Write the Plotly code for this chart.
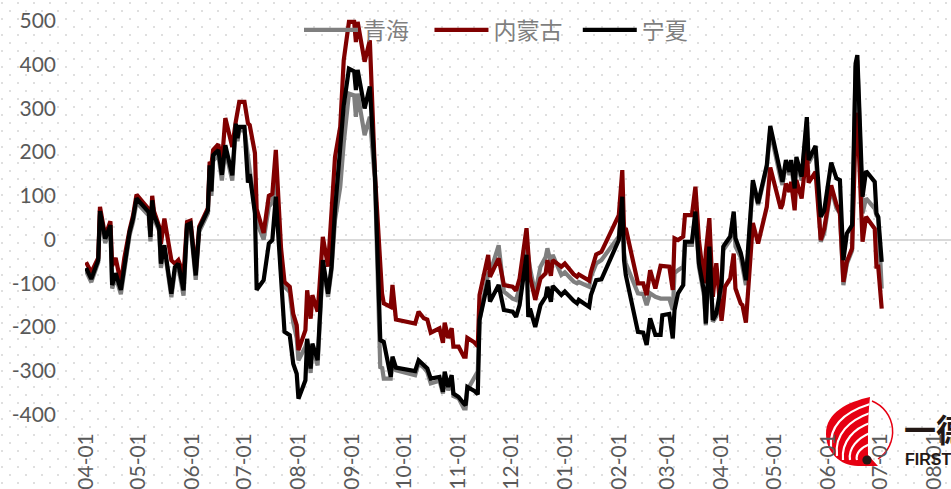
import base64
import pandas as pd
import plotly.graph_objects as go

START = "2024-04-01"
Y_TICKS = [500,400,300,200,100,0,-100,-200,-300,-400]

days = [0,3,7,8,11,14,15,17,20,22,25,27,29,36,37,38,39,42,43,45,49,51,53,56,58,60,63,65,70,71,72,73,76,78,80,84,86,87,88,91,93,94,97,98,102,105,107,109,112,114,117,119,121,122,126,127,129,130,133,134,136,139,141,143,146,148,151,154,155,156,160,163,166,169,170,171,175,176,178,189,191,194,196,198,203,205,206,208,210,211,214,217,218,219,223,225,226,231,232,237,240,245,247,249,253,254,255,258,261,264,265,267,268,273,275,280,282,283,289,290,293,296,306,308,309,310,317,320,322,324,327,330,331,335,337,338,340,343,344,348,350,352,355,356,358,360,362,365,366,367,370,372,373,376,377,379,383,386,391,393,399,400,402,404,405,407,408,411,414,415,419,422,424,428,431,433,435,437,440,442,443,446,448,453,454,455,457]

ningxia = [-65,-90,-47,65,2,33,-104,-77,-115,-60,17,48,94,63,6,90,56,25,-55,-13,-124,-63,-55,-116,33,37,-82,25,67,170,110,193,205,148,216,147,265,232,258,258,130,150,60,-115,-93,-9,-1,98,-108,-211,-219,-284,-307,-364,-322,-227,-295,-238,-276,-185,-47,-124,-62,67,197,307,391,385,342,388,300,350,144,-230,-232,-234,-314,-268,-293,-301,-276,-287,-295,-318,-314,-348,-302,-337,-310,-352,-360,-375,-379,-337,-346,-354,-184,-93,-142,-104,-161,-165,-177,-150,-35,-177,-158,-200,-150,-131,-108,-142,-106,-127,-119,-140,-146,-138,-154,-127,-93,-91,-1,98,-47,-81,-211,-213,-241,-180,-218,-218,-173,-170,-226,-161,-123,-104,-5,-5,64,-54,-120,-192,-16,-184,-169,-100,-16,-10,7,64,3,-30,-47,-93,136,83,170,260,145,132,182,155,182,117,189,144,280,182,214,52,67,176,140,136,-47,14,33,403,422,98,157,132,60,52,-51]

neimenggu = [-52,-75,-42,75,8,42,-60,-42,-100,-42,22,55,103,70,20,100,65,30,-10,48,-47,-55,-47,-80,40,43,-72,30,72,178,170,205,218,175,278,212,270,290,315,315,266,262,198,70,15,100,105,205,-20,-97,-108,-170,-196,-253,-207,-116,-181,-127,-165,-112,6,-62,60,189,258,410,498,498,452,498,407,456,144,-90,-123,-146,-154,-104,-183,-192,-165,-180,-183,-213,-203,-236,-190,-225,-203,-245,-245,-268,-268,-225,-235,-244,-127,-35,-85,-43,-104,-108,-117,-89,26,-30,-85,-138,-89,-77,-47,-83,-47,-62,-55,-79,-85,-80,-94,-74,-34,-28,56,159,22,26,-100,-100,-127,-70,-112,-60,-60,-62,-115,3,-1,7,56,56,121,-1,-100,-28,49,-131,-54,-186,-150,-108,-89,-32,-112,-146,-150,-190,38,-9,75,165,71,80,128,109,132,67,136,94,205,130,155,-1,25,124,80,60,-97,-50,-20,250,290,-5,52,25,-62,-62,-158]

qinghai = [-72,-97,-52,58,-8,25,-112,-85,-125,-68,10,40,85,55,-4,82,48,20,-65,-20,-132,-72,-63,-128,25,30,-92,18,60,160,100,180,195,135,205,135,255,225,250,250,190,175,70,40,0,75,85,170,-70,-108,-120,-190,-225,-276,-245,-230,-305,-245,-288,-195,-55,-131,-70,45,120,220,334,330,281,334,239,281,130,-295,-291,-318,-318,-276,-299,-310,-283,-293,-303,-329,-323,-352,-310,-345,-318,-358,-363,-386,-386,-344,-314,-302,-184,-77,-77,-13,-119,-135,-138,-110,-10,-40,-66,-123,-62,-40,-20,-55,-35,-81,-75,-96,-100,-97,-108,-85,-55,-47,7,90,-30,-54,-123,-125,-150,-123,-131,-135,-135,-135,-161,-77,-70,-62,-12,-12,60,-62,-130,-196,-20,-188,-176,-110,-24,-18,-1,56,-16,-40,-58,-104,129,79,165,250,138,125,175,148,172,108,180,135,270,175,205,-5,15,118,72,60,-104,-55,-25,395,410,60,94,71,55,50,-112]

SERIES = [("青海\u00a0\u00a0\u00a0", qinghai, "#7F7F7F"), ("内蒙古\u00a0\u00a0", neimenggu, "#800000"), ("宁夏", ningxia, "#000000")]

W, H = 951, 489
L, B = 85, 61
PW, PH = W - L, H - B
dates = pd.Timestamp(START) + pd.to_timedelta(days, unit="D")

dots = "".join(
    f'<circle cx="{x + (8 if r % 2 else 0)}" cy="{3 + r * 8}" r="1" fill="#D4D4D4"/>'
    for r in range(62) for x in range(2, W + 16, 16)
)
flame = (
    '<defs><clipPath id="c"><path d="M870,397 C848,402 826,412 826,434 C826,452 840,466 858,466 L878,466 L868,455 C868,430 868,415 870,397 Z"/></clipPath></defs>'
    '<path d="M872,401 A33,33 0 0 1 878,459" fill="none" stroke="#E60012" stroke-width="1.5"/>'
    '<g clip-path="url(#c)"><rect x="815" y="390" width="70" height="80" fill="#E60012"/>'
    '<g fill="none" stroke="#FFFFFF" stroke-width="2.2">'
    '<path d="M831,447 C829,425 845,412 870,404"/><path d="M837,456 C834,434 850,420 870,413"/>'
    '<path d="M843,460 C841,441 855,428 870,423"/><path d="M850,460 C848,448 858,438 870,433"/>'
    '<path d="M857,460 C855,453 862,447 870,444"/></g></g>'
    '<circle cx="867" cy="460" r="4.6" fill="#231815"/>'
)
svg = f'<svg xmlns="http://www.w3.org/2000/svg" width="{W}" height="{H}" viewBox="0 0 {W} {H}">{dots}{flame}</svg>'
uri = "data:image/svg+xml;base64," + base64.b64encode(svg.encode()).decode()

fig = go.Figure()
for name, vals, color in SERIES:
    fig.add_trace(go.Scatter(x=dates, y=vals, name=name, mode="lines",
                             line=dict(color=color, width=4.2, shape="linear")))

px = lambda x: (x - L) / PW
py = lambda y: (H - B - y) / PH

fig.update_layout(
    width=W, height=H, autosize=False,
    margin=dict(l=L, r=0, t=0, b=B, pad=0),
    paper_bgcolor="white", plot_bgcolor="rgba(0,0,0,0)",
    font=dict(family="Lato", color="#595959", size=21),
    showlegend=True,
    legend=dict(orientation="h", x=px(299), xanchor="left", y=py(30), yanchor="middle",
                bgcolor="rgba(0,0,0,0)", itemwidth=54, tracegroupgap=0,
                font=dict(family="Noto Sans CJK SC", size=23, color="#7F7F7F"),
                itemclick=False, itemdoubleclick=False),
    xaxis=dict(type="date", range=[pd.Timestamp(START) - pd.Timedelta(days=0.6), pd.Timestamp(START) + pd.Timedelta(days=496.8)],
               tick0=START, dtick="M1", tickformat="%m-%d", tickangle=-90, showgrid=False, zeroline=False,
               showline=False, ticks="", tickfont=dict(family="Lato", size=21, color="#595959")),
    yaxis=dict(range=[-431, 548], tickmode="array", tickvals=Y_TICKS, ticktext=[str(v) for v in Y_TICKS],
               showgrid=False, zeroline=True, zerolinecolor="#D9D9D9",
               zerolinewidth=2, showline=False, ticks="", ticklabelstandoff=28,
               tickfont=dict(family="Lato", size=21, color="#595959")),
    images=[dict(source=uri, xref="paper", yref="paper", x=-L / PW, y=1, sizex=W / PW, sizey=H / PH,
                 xanchor="left", yanchor="top", sizing="stretch", layer="below")],
    annotations=[
        dict(text="<b>一德</b>", xref="paper", yref="paper", x=px(902), y=py(428), xanchor="left", yanchor="middle",
             showarrow=False, font=dict(family="Noto Sans CJK SC", size=32, color="#231815")),
        dict(text="<b>FIRST</b>", xref="paper", yref="paper", x=px(903), y=py(459), xanchor="left", yanchor="middle",
             showarrow=False, font=dict(family="Liberation Sans", size=16, color="#231815")),
    ],
)
fig.write_html("out.html", config={"displayModeBar": False},
               post_script="document.body.style.margin='0';document.body.style.overflow='hidden';")
